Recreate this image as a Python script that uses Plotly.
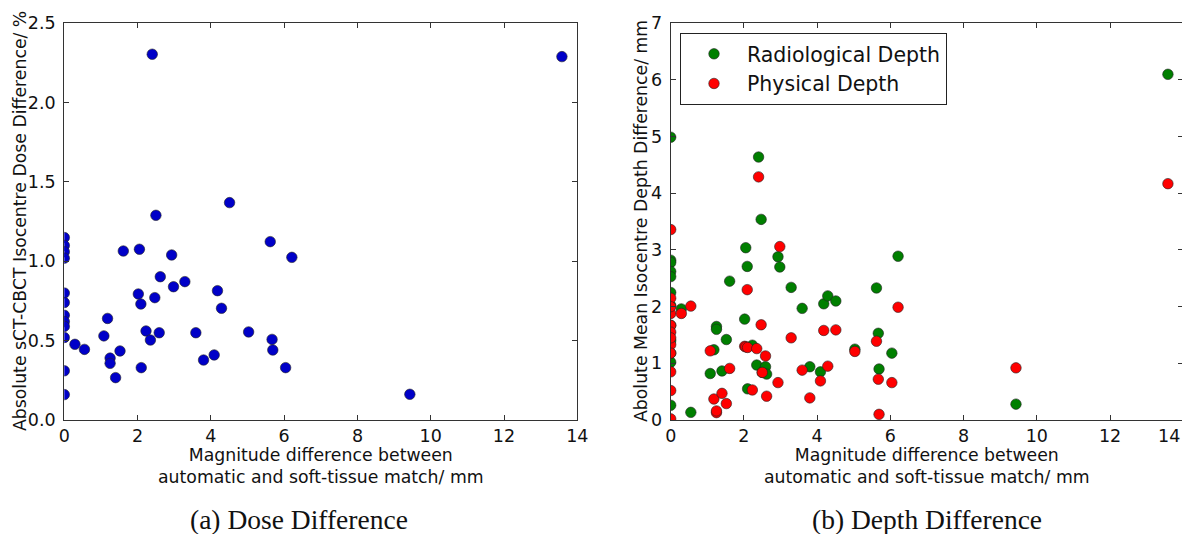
import plotly.graph_objects as go

# Magnitude difference between automatic and soft-tissue match (mm), one per case
match_diff = [0, 0, 0, 0, 0, 0, 0, 0, 0, 0, 0, 0,
              0.29, 0.55, 1.08, 1.18, 1.25, 1.25, 1.40, 1.52, 1.61, 2.02,
              2.05, 2.09, 2.10, 2.23, 2.35, 2.40, 2.47, 2.50, 2.59, 2.62,
              2.93, 2.98, 3.29, 3.59, 3.80, 4.09, 4.18, 4.29, 4.51, 5.03,
              5.62, 5.67, 5.69, 6.04, 6.21, 9.43, 13.58]

# Absolute sCT-CBCT isocentre dose difference (%)
dose_diff = [1.15, 1.10, 1.06, 1.02, 0.80, 0.74, 0.66, 0.62, 0.59, 0.52, 0.31, 0.16,
             0.477, 0.445, 0.53, 0.64, 0.39, 0.357, 0.267, 0.435, 1.065, 0.794,
             1.076, 0.731, 0.33, 0.561, 0.504, 2.305, 0.771, 1.29, 0.55, 0.903,
             1.04, 0.84, 0.872, 0.55, 0.378, 0.41, 0.815, 0.704, 1.37, 0.555,
             1.124, 0.508, 0.441, 0.33, 1.025, 0.162, 2.29]

# Absolute mean isocentre depth difference (mm)
radiological_depth = [4.99, 2.82, 2.78, 2.62, 2.53, 2.25, 2.02, 1.40, 1.02, 0.26, 1.67, 1.18,
                      1.96, 0.135, 0.82, 1.24, 1.65, 1.60, 0.865, 1.42, 2.45, 1.78,
                      3.04, 2.71, 0.55, 1.32, 0.97, 4.64, 3.54, 0.84, 0.94, 0.81,
                      2.88, 2.70, 2.34, 1.97, 0.94, 0.85, 2.05, 2.19, 2.10, 1.25,
                      2.33, 1.53, 0.90, 1.18, 2.89, 0.28, 6.10]
physical_depth = [3.36, 2.15, 1.88, 1.67, 1.55, 1.33, 1.18, 0.85, 0.52, 0.02, 1.45, 2.00,
                  1.88, 2.01, 1.22, 0.37, 0.13, 0.16, 0.47, 0.29, 0.91, 1.30,
                  1.29, 2.30, 1.28, 0.53, 1.26, 4.29, 1.68, 0.84, 1.13, 0.42,
                  0.66, 3.06, 1.45, 0.88, 0.39, 0.69, 1.58, 0.95, 1.59, 1.21,
                  1.39, 0.72, 0.10, 0.66, 1.99, 0.92, 4.17]

x_ticks = [0, 2, 4, 6, 8, 10, 12, 14]
dose_ticks = [0.0, 0.5, 1.0, 1.5, 2.0, 2.5]
depth_ticks = [0, 1, 2, 3, 4, 5, 6, 7]

x_title = "Magnitude difference between<br>automatic and soft-tissue match/ mm"
dose_title = "Absolute sCT-CBCT Isocentre Dose Difference/ %"
depth_title = "Abolute Mean Isocentre Depth Difference/ mm"

OFF = 8  # page body margin
W, H = 1190 - OFF, 534 - OFF

def px(p):
    return (p - OFF) / W

def py(p):
    return (H - (p - OFF)) / H

FONT = "DejaVu Sans"
TXT = "#111111"
TICK_SIZE = 17.5
marker_line = dict(color="#222222", width=0.6)
MS = 10.5

fig = go.Figure()
fig.add_trace(go.Scatter(x=match_diff, y=dose_diff, mode="markers", showlegend=False,
                         marker=dict(color="#0000c8", size=MS, line=marker_line),
                         xaxis="x", yaxis="y"))
fig.add_trace(go.Scatter(x=match_diff, y=radiological_depth, mode="markers",
                         name="Radiological Depth",
                         marker=dict(color="#007f00", size=MS, line=marker_line),
                         xaxis="x2", yaxis="y2"))
fig.add_trace(go.Scatter(x=match_diff, y=physical_depth, mode="markers",
                         name="Physical Depth",
                         marker=dict(color="#ff0000", size=MS, line=marker_line),
                         xaxis="x2", yaxis="y2"))

ydom = [py(420), py(23.3)]
xdom2 = [px(670.7), px(1183.3)]
axis_common = dict(showgrid=False, zeroline=False, showline=True, linecolor="#333333",
                   linewidth=1.2, mirror="allticks", ticks="inside", ticklen=5,
                   tickcolor="#333333", automargin=False,
                   tickfont=dict(family=FONT, size=TICK_SIZE, color=TXT))

def ann(text, x, y, size, family=FONT, angle=0):
    return dict(text=text, x=px(x), y=py(y), xref="paper", yref="paper",
                showarrow=False, xanchor="center", yanchor="middle", textangle=angle,
                font=dict(family=family, size=size, color=TXT))

# last tick label of the right panel sits at the page edge; it is written as an
# annotation anchored to the axis value, nudged left so it stays fully visible
x2_text = [str(v) for v in x_ticks[:-1]] + [""]
last_tick = dict(text=str(x_ticks[-1]), x=x_ticks[-1], xref="x2", y=py(436), yref="paper",
                 showarrow=False, xanchor="right", yanchor="middle", xshift=-1,
                 font=dict(family=FONT, size=TICK_SIZE, color=TXT))

fig.update_layout(
    width=W, height=H, margin=dict(l=0, r=0, t=0, b=0),
    paper_bgcolor="white", plot_bgcolor="white",
    font=dict(family=FONT, color=TXT),
    xaxis=dict(domain=[px(64.3), px(577.3)], range=[0, 14], tickvals=x_ticks,
               anchor="y", **axis_common),
    yaxis=dict(domain=ydom, range=[0, 2.5], tickvals=dose_ticks, tickformat=".1f",
               anchor="x", ticklabelstandoff=4, **axis_common),
    xaxis2=dict(domain=xdom2, range=[0, 14], tickvals=x_ticks, ticktext=x2_text,
                anchor="y2", **axis_common),
    yaxis2=dict(domain=ydom, range=[0, 7], tickvals=depth_ticks,
                anchor="x2", ticklabelstandoff=4, **axis_common),
    legend=dict(x=px(680), y=py(33), xanchor="left", yanchor="top",
                bgcolor="white", bordercolor="#222222", borderwidth=1,
                itemwidth=56,
                font=dict(family=FONT, size=20.5, color=TXT)),
    annotations=[
        ann(x_title, 321, 466, 17.3),
        ann(x_title, 927, 466, 17.3),
        ann(dose_title, 20, 221, 17.3, angle=-90),
        ann(depth_title, 641, 221, 17.3, angle=-90),
        ann("(a) Dose Difference", 299, 519, 27.5, family="Liberation Serif"),
        ann("(b) Depth Difference", 927, 519, 27.5, family="Liberation Serif"),
        last_tick,
    ],
)

fig.write_html("out.html")
